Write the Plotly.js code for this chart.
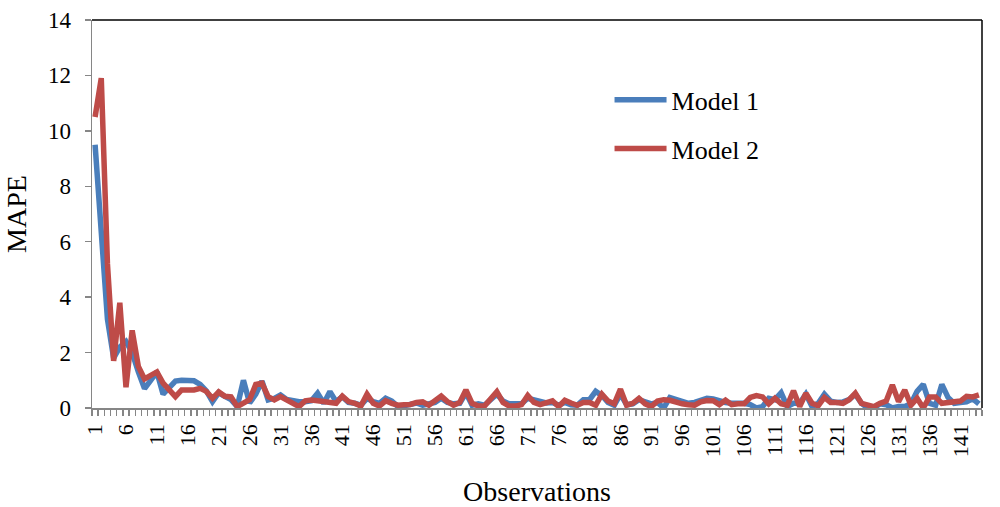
<!DOCTYPE html>
<html>
<head>
<meta charset="utf-8">
<script src="https://cdn.plot.ly/plotly-3.0.1.min.js"></script>
<style>
  html, body { margin: 0; padding: 0; background: #ffffff; }
  #chart { width: 1000px; height: 507px; }
</style>
</head>
<body>
<div id="chart"></div>
<script>
const observations = [
  1,2,3,4,5,6,7,8,9,10,11,12,13,14,15,16,17,18,19,20,
  21,22,23,24,25,26,27,28,29,30,31,32,33,34,35,36,37,38,39,40,
  41,42,43,44,45,46,47,48,49,50,51,52,53,54,55,56,57,58,59,60,
  61,62,63,64,65,66,67,68,69,70,71,72,73,74,75,76,77,78,79,80,
  81,82,83,84,85,86,87,88,89,90,91,92,93,94,95,96,97,98,99,100,
  101,102,103,104,105,106,107,108,109,110,111,112,113,114,115,116,117,118,119,120,
  121,122,123,124,125,126,127,128,129,130,131,132,133,134,135,136,137,138,139,140,
  141,142,143,144
];

const model1 = [
  9.5, 6.0, 3.2, 1.8, 2.2, 2.4, 2.0, 1.3, 0.7, 1.0,
  1.3, 0.5, 0.75, 0.97, 1.0, 1.0, 0.98, 0.85, 0.62, 0.23,
  0.55, 0.42, 0.3, 0.05, 1.0, 0.18, 0.5, 0.97, 0.29, 0.35,
  0.47, 0.31, 0.26, 0.23, 0.23, 0.26, 0.53, 0.17, 0.59, 0.23,
  0.41, 0.2, 0.17, 0.1, 0.35, 0.23, 0.17, 0.35, 0.25, 0.05,
  0.08, 0.15, 0.18, 0.1, 0.15, 0.2, 0.35, 0.2, 0.15, 0.17,
  0.55, 0.1, 0.15, 0.1, 0.3, 0.5, 0.25, 0.15, 0.15, 0.15,
  0.35, 0.3, 0.22, 0.18, 0.2, 0.1, 0.2, 0.12, 0.1, 0.3,
  0.3, 0.6, 0.45, 0.2, 0.1, 0.5, 0.12, 0.15, 0.3, 0.2,
  0.15, 0.2, 0.0, 0.38, 0.3, 0.2, 0.17, 0.2, 0.3, 0.35,
  0.33, 0.25, 0.2, 0.17, 0.17, 0.17, 0.12, 0.0, 0.05, 0.35,
  0.3, 0.55, 0.05, 0.17, 0.17, 0.5, 0.05, 0.17, 0.5, 0.25,
  0.2, 0.22, 0.3, 0.5, 0.17, 0.0, 0.0, 0.15, 0.12, 0.0,
  0.05, 0.05, 0.15, 0.6, 0.85, 0.17, 0.1, 0.85, 0.38, 0.17,
  0.2, 0.22, 0.33, 0.15
];

const model2 = [
  10.5, 11.9, 5.2, 1.7, 3.8, 0.75, 2.8, 1.5, 1.05, 1.15,
  1.3, 0.9, 0.65, 0.41, 0.65, 0.65, 0.65, 0.71, 0.6, 0.35,
  0.58, 0.42, 0.4, 0.05, 0.2, 0.3, 0.85, 0.9, 0.41, 0.29,
  0.41, 0.29, 0.17, 0.05, 0.26, 0.29, 0.26, 0.23, 0.23, 0.17,
  0.43, 0.23, 0.17, 0.07, 0.5, 0.17, 0.07, 0.26, 0.17, 0.1,
  0.12, 0.13, 0.2, 0.22, 0.1, 0.29, 0.43, 0.23, 0.1, 0.2,
  0.65, 0.17, 0.07, 0.07, 0.3, 0.59, 0.2, 0.07, 0.07, 0.12,
  0.45, 0.2, 0.12, 0.17, 0.26, 0.05, 0.28, 0.18, 0.1, 0.2,
  0.2, 0.1, 0.5, 0.25, 0.15, 0.68, 0.1, 0.17, 0.35, 0.15,
  0.05, 0.25, 0.3, 0.28, 0.2, 0.15, 0.12, 0.1, 0.22, 0.27,
  0.26, 0.12, 0.28, 0.12, 0.15, 0.15, 0.38, 0.45, 0.4, 0.15,
  0.35, 0.15, 0.1, 0.62, 0.05, 0.53, 0.17, 0.08, 0.38, 0.2,
  0.2, 0.17, 0.3, 0.53, 0.17, 0.1, 0.05, 0.17, 0.25, 0.83,
  0.23, 0.65, 0.1, 0.35, 0.0, 0.4, 0.4, 0.17, 0.2, 0.23,
  0.25, 0.42, 0.4, 0.47
];

const xTickVals = [1, 6, 11, 16, 21, 26, 31, 36, 41, 46, 51, 56, 61, 66, 71, 76, 81, 86, 91, 96, 101, 106, 111, 116, 121, 126, 131, 136, 141];
const xTickText = ["1","6","11","16","21","26","31","36","41","46","51","56","61","66","71","76","81","86","91","96","101","106","111","116","121","126","131","136","141"];
const yTickVals = [0, 2, 4, 6, 8, 10, 12, 14];

const FONT = '"Liberation Serif", "Times New Roman", serif';
const AXIS_GRAY = '#868686';

// category boundaries for the small tick marks between observations
const boundaries = [observations[0] - 0.5].concat(observations.map(v => v + 0.5));

const traces = [
  {
    x: observations, y: model1, type: 'scatter', mode: 'lines', name: 'Model 1',
    legendgroup: 'm1',
    line: { color: '#4A7EBB', width: 5.5 }
  },
  {
    x: observations, y: model2, type: 'scatter', mode: 'lines', name: 'Model 2',
    legendgroup: 'm2',
    line: { color: '#BE4B48', width: 5.5 }
  }
];

const layout = {
  width: 1000, height: 507,
  margin: { l: 92, r: 18, t: 20, b: 99, pad: 0 },
  paper_bgcolor: '#ffffff', plot_bgcolor: '#ffffff',
  font: { family: FONT, size: 22, color: '#000000' },
  showlegend: true,
  legend: {
    x: 0.5815, xanchor: 'left', y: 0.855, yanchor: 'top',
    bgcolor: 'rgba(0,0,0,0)', borderwidth: 0,
    font: { family: FONT, size: 26, color: '#000000' },
    traceorder: 'grouped', tracegroupgap: 12, itemwidth: 52
  },
  xaxis: {
    type: 'linear',
    range: [boundaries[0], boundaries[boundaries.length - 1]],
    tickmode: 'array', tickvals: xTickVals, ticktext: xTickText,
    tickangle: -90, ticks: '', ticklen: 0, ticklabelstandoff: 6,
    tickfont: { family: FONT, size: 22, color: '#000000' },
    showgrid: false, zeroline: false,
    showline: true, linecolor: AXIS_GRAY, linewidth: 1.5,
    minor: { tickmode: 'array', tickvals: boundaries, ticks: 'outside', ticklen: 6, tickwidth: 1.5, tickcolor: AXIS_GRAY, showgrid: false },
    title: { text: 'Observations', font: { family: FONT, size: 28, color: '#000000' }, standoff: 28 }
  },
  yaxis: {
    range: [0, 14],
    tickmode: 'array', tickvals: yTickVals,
    ticks: 'outside', ticklen: 6, tickwidth: 1.5, tickcolor: AXIS_GRAY,
    ticklabelstandoff: 9,
    tickfont: { family: FONT, size: 23, color: '#000000' },
    showgrid: false, zeroline: false,
    showline: true, linecolor: AXIS_GRAY, linewidth: 1.5,
    title: { text: 'MAPE', font: { family: FONT, size: 28, color: '#000000' }, standoff: 13 }
  },
  shapes: [
    { type: 'line', xref: 'paper', yref: 'paper', x0: 0, x1: 1, y0: 1, y1: 1, line: { color: '#000000', width: 1.5 } },
    { type: 'line', xref: 'paper', yref: 'paper', x0: 1, x1: 1, y0: 0, y1: 1, line: { color: '#000000', width: 1.5 } }
  ]
};

Plotly.newPlot('chart', traces, layout, { displayModeBar: false, staticPlot: true });
</script>
</body>
</html>
